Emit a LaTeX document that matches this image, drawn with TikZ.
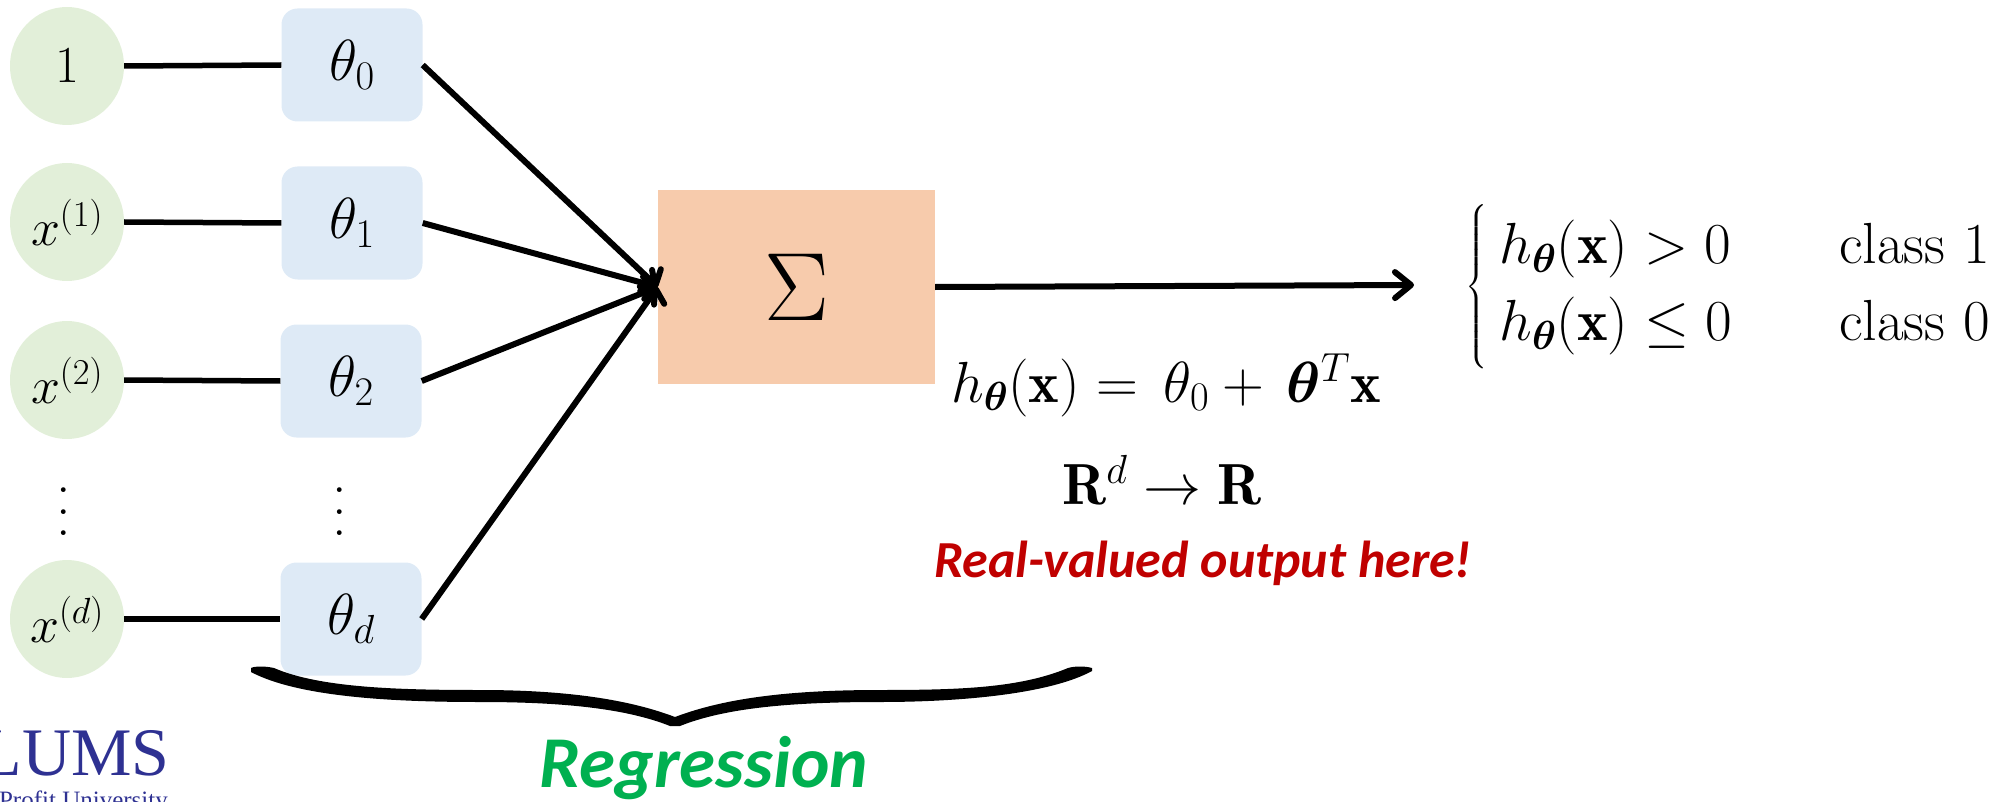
\RequirePackage{fix-cm}
\documentclass[tikz,border=0pt]{standalone}
\usepackage{amsmath,bm}
\usepackage{fontspec}
\usetikzlibrary{shapes.geometric,arrows.meta}
\newfontfamily\handfont{Carlito}
\newfontfamily\logofont{Liberation Serif}
\definecolor{cgreen}{HTML}{E2EFD9}
\definecolor{cblue}{HTML}{DEEAF6}
\definecolor{corange}{HTML}{F7CBAC}
\definecolor{hgreen}{HTML}{00B050}
\definecolor{hred}{HTML}{C00000}
\definecolor{logoblue}{HTML}{2E3192}
\newcommand{\bigtext}{\fontsize{58}{60}\selectfont}
\newcommand{\tallvdots}{\vbox{\baselineskip=21.5pt\lineskiplimit=0pt\hbox{.}\hbox{.}\hbox{.}}}
\tikzset{
  inp/.style={ellipse,fill=cgreen,minimum width=114pt,minimum height=118pt,inner sep=0pt,font=\fontsize{52}{60}\selectfont},
  wt/.style={rounded corners=16pt,fill=cblue,minimum width=141pt,minimum height=113pt,inner sep=0pt,font=\bigtext},
  wire/.style={line width=5.5pt},
  feed/.style={line width=6pt,-{Straight Barb[length=7pt,width=30pt,line width=6pt,round]}},
  outarrow/.style={line width=6pt,-{Straight Barb[length=16pt,width=26pt,line width=6pt,round]}},
  lbl/.style={inner sep=0pt,font=\bigtext},
}
\begin{document}
\begin{tikzpicture}[x=1pt,y=-1pt]
\useasboundingbox (0,0) rectangle (2001,802);
\node[inp] (c0) at (67,66) {$1$};
\node[inp] (c1) at (67,222) {$x^{(1)}$};
\node[inp] (c2) at (67,380) {$x^{(2)}$};
\node[inp] (cd) at (67,619) {$x^{(d)}$};
\node[wt] (t0) at (352,65) {$\theta_0$};
\node[wt] (t1) at (352,223) {$\theta_1$};
\node[wt] (t2) at (351,381) {$\theta_2$};
\node[wt] (td) at (351,619) {$\theta_d$};
\node[lbl] (v1) at (64,512) {\tallvdots};
\node[lbl] (v2) at (340,512) {\tallvdots};
\node[fill=corange,minimum width=277pt,minimum height=194pt,inner sep=0pt,font=\fontsize{97}{110}\selectfont] (sum) at (796.5,287) {$\Sigma$};
\coordinate (out) at (1414,285);
\draw[wire] (c0.east) -- (t0.west);
\draw[wire] (c1.east) -- (t1.west);
\draw[wire] (c2.east) -- (t2.west);
\draw[wire] (cd.east) -- (td.west);
\draw[feed] (t0.east) -- (sum.west);
\draw[feed] (t1.east) -- (sum.west);
\draw[feed] (t2.east) -- (sum.west);
\draw[feed] (td.east) -- (sum.west);
\draw[outarrow] (sum.east) -- (out);
\node[lbl] (hyp) at (1166,385) {$h_{\bm{\theta}}(\mathbf{x}) =\, \theta_0 +\, \bm{\theta}^T\mathbf{x}$};
\node[lbl] (map) at (1162,480) {$\mathbf{R}^d \rightarrow \mathbf{R}$};
\node[inner sep=0pt,anchor=base,text=hred,font=\handfont\bfseries\itshape\fontsize{52}{60}\selectfont] (real) at (1203,577) {Real-valued output here!};
\node[lbl,anchor=west] (dec) at (1465,287) {\renewcommand{\arraystretch}{1.28}$\left\{\rule[-68pt]{0pt}{165pt}\begin{array}{@{\hspace{12pt}}l@{\hspace{107pt}}l@{}}h_{\bm{\theta}}(\mathbf{x}) > 0 & \text{class 1}\\ h_{\bm{\theta}}(\mathbf{x}) \leq 0 & \text{class 0}\end{array}\right.$};
\fill (251,668) .. controls (255,666) and (265,666) .. (274,668) .. controls (320,688) and (400,690) .. (480,690) .. controls (560,690) and (625,698) .. (675,717) .. controls (725,698) and (790,690) .. (880,690) .. controls (960,690) and (1020,688) .. (1068,668) .. controls (1075,666) and (1085,666) .. (1092,668) -- (1092,671) .. controls (1050,694) and (960,702) .. (880,702) .. controls (790,702) and (725,708) .. (680,726) -- (670,726) .. controls (625,708) and (560,702) .. (480,702) .. controls (400,702) and (300,698) .. (251,672) -- cycle;
\node[inner sep=0pt,anchor=base,text=hgreen,font=\handfont\bfseries\itshape\fontsize{73}{80}\selectfont] (reg) at (704,787) {Regression};
\node[inner sep=0pt,anchor=base east,text=logoblue,font=\logofont\fontsize{68}{70}\selectfont] (logo) at (170,775) {LUMS};
\node[inner sep=0pt,anchor=base east,text=logoblue,font=\logofont\fontsize{25}{27}\selectfont] (prof) at (168,808) {Profit University};
\end{tikzpicture}
\end{document}
